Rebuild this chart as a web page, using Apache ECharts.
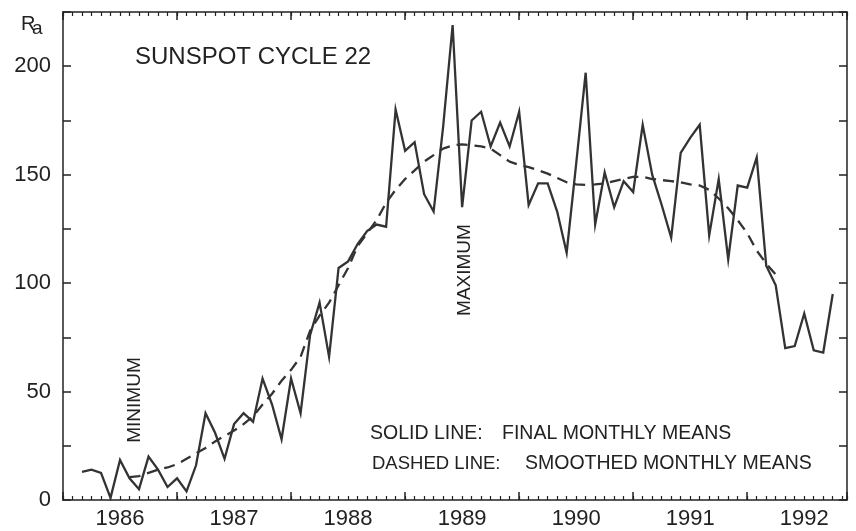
<!DOCTYPE html>
<html><head><meta charset="utf-8">
<script src="https://cdn.jsdelivr.net/npm/echarts@6/dist/echarts.min.js"></script>
<style>html,body{margin:0;padding:0;background:#fff}#c{width:856px;height:531px}</style>
</head><body><div id="c"></div>
<script>
// months counted from January 1986 (0 = Jan 1986)
const monthIndex = [2,3,4,5,6,7,8,9,10,11,12,13,14,15,16,17,18,19,20,21,22,23,24,25,26,27,28,29,30,31,32,33,34,35,36,37,38,39,40,41,42,43,44,45,46,47,48,49,50,51,52,53,54,55,56,57,58,59,60,61,62,63,64,65,66,67,68,69,70,71,72,73,74,75,76,77,78,79,80,81];
const finalMonthly = [13,14,12.5,1,18.5,10,5,20,14,6,10,4,16,40,31,19,35,40,36,56,44,28,56,40,76,91,66,107,110,118,124,127,126,180,161,165,141,133,172,219,135,175,179,163,174,163,179,136,146,146,133,114,155,197,127,151,135,147,142,173,150,136,121,160,167,173,122,148,111,145,144,158,108,99,70,71,86,69,68,95];
const smoothedMonths = [7,8,9,10,11,12,13,14,15,16,17,18,19,20,21,22,23,24,25,26,27,28,29,30,31,32,33,34,35,36,37,38,39,40,41,42,43,44,45,46,47,48,49,50,51,52,53,54,55,56,57,58,59,60,61,62,63,64,65,66,67,68,69,70,71,72,73,74,75];
const smoothedMonthly = [10.5,11,12.5,14,15,16.5,19,21.5,24,27,29.5,32,35,38.5,44,49,55,60,66,78,85,91,99,107,117,123,129,137,143,148,152,156,159,162,163.5,164,163.5,163,162,159,156,154.5,153.5,152,150.5,148.5,146.5,145.5,145.3,145.5,146,147,148,149,149,148,147.5,147,146.5,145.5,145,143,139,134.5,129,123,115,109,104];
const yearLabels = ['1986','1987','1988','1989','1990','1991','1992'];
const yearLabelPos = [6,18,30,42,54,66,78];
const yTickLabels = [0,50,100,150,200];

const FONT = 'Liberation Sans';
const INK = '#222';
const X_MAX = 82.5;

const chart = echarts.init(document.getElementById('c'), null, {renderer:'canvas'});
const baseX = {type:'value', min:0, max:X_MAX, splitLine:{show:false},
  axisLabel:{show:false}, axisTick:{show:false}, axisLine:{show:false, onZero:false}};
const lineSt = {color:INK, width:1.5};
const txt = (text, x, y, size, extra) => Object.assign({
  type:'text', x:x, y:y, silent:true,
  style:{text:text, fill:INK, font: size + 'px "' + FONT + '"', align:'left', verticalAlign:'middle'}
}, extra || {});

chart.setOption({
  animation:false,
  backgroundColor:'#fff',
  grid:{left:63, right:9, top:12, bottom:31, containLabel:false},
  xAxis:[
    Object.assign({}, baseX, {position:'bottom', interval:12,
      axisLine:{show:true, onZero:false, lineStyle:lineSt},
      axisTick:{show:true, inside:true, length:8, lineStyle:lineSt},
      axisLabel:{show:true, customValues:yearLabelPos,
        formatter:(v)=>yearLabels[Math.floor(v/12)],
        fontFamily:FONT, fontSize:22, color:INK, margin:8}}),
    Object.assign({}, baseX, {position:'bottom', interval:1,
      axisTick:{show:true, inside:true, length:4, lineStyle:{color:INK, width:1.2}}}),
    Object.assign({}, baseX, {position:'top', interval:12,
      axisLine:{show:true, onZero:false, lineStyle:lineSt},
      axisTick:{show:true, inside:true, length:8, lineStyle:lineSt}}),
    Object.assign({}, baseX, {position:'top', interval:1,
      axisTick:{show:true, inside:true, length:4, lineStyle:{color:INK, width:1.2}}})
  ],
  yAxis:[
    {type:'value', min:0, max:225, interval:25, position:'left', splitLine:{show:false},
      axisLine:{show:true, onZero:false, lineStyle:lineSt},
      axisTick:{show:true, inside:true, length:8, lineStyle:lineSt},
      axisLabel:{show:true, customValues:yTickLabels, fontFamily:FONT, fontSize:22, color:INK, margin:12}},
    {type:'value', min:0, max:225, interval:25, position:'right', splitLine:{show:false},
      axisLine:{show:true, onZero:false, lineStyle:lineSt},
      axisTick:{show:true, inside:true, length:8, lineStyle:lineSt},
      axisLabel:{show:false}}
  ],
  series:[
    {type:'line', name:'Final monthly means', xAxisIndex:0, yAxisIndex:0, symbol:'none', silent:true,
      data: monthIndex.map((m,i)=>[m, finalMonthly[i]]),
      lineStyle:{color:'#333', width:2.3, join:'miter'}},
    {type:'line', name:'Smoothed monthly means', xAxisIndex:0, yAxisIndex:0, symbol:'none', silent:true,
      data: smoothedMonths.map((m,i)=>[m, smoothedMonthly[i]]),
      lineStyle:{color:'#333', width:2.3, type:[11,7]}}
  ],
  graphic:[
    txt('R', 21, 24, 20),
    txt('a', 32, 28.5, 19),
    txt('SUNSPOT CYCLE 22', 135, 57, 24),
    txt('SOLID LINE:', 370, 434, 19.5),
    txt('FINAL MONTHLY MEANS', 502, 434, 19.5),
    txt('DASHED LINE:', 372, 464, 18.5),
    txt('SMOOTHED MONTHLY MEANS', 525, 464, 19.5),
    {type:'text', x:135, y:400, rotation:Math.PI/2, silent:true,
      style:{text:'MINIMUM', fill:INK, font:'19px "' + FONT + '"', align:'center', verticalAlign:'middle'}},
    {type:'text', x:465, y:270, rotation:Math.PI/2, silent:true,
      style:{text:'MAXIMUM', fill:INK, font:'19px "' + FONT + '"', align:'center', verticalAlign:'middle'}}
  ]
});
</script></body></html>
